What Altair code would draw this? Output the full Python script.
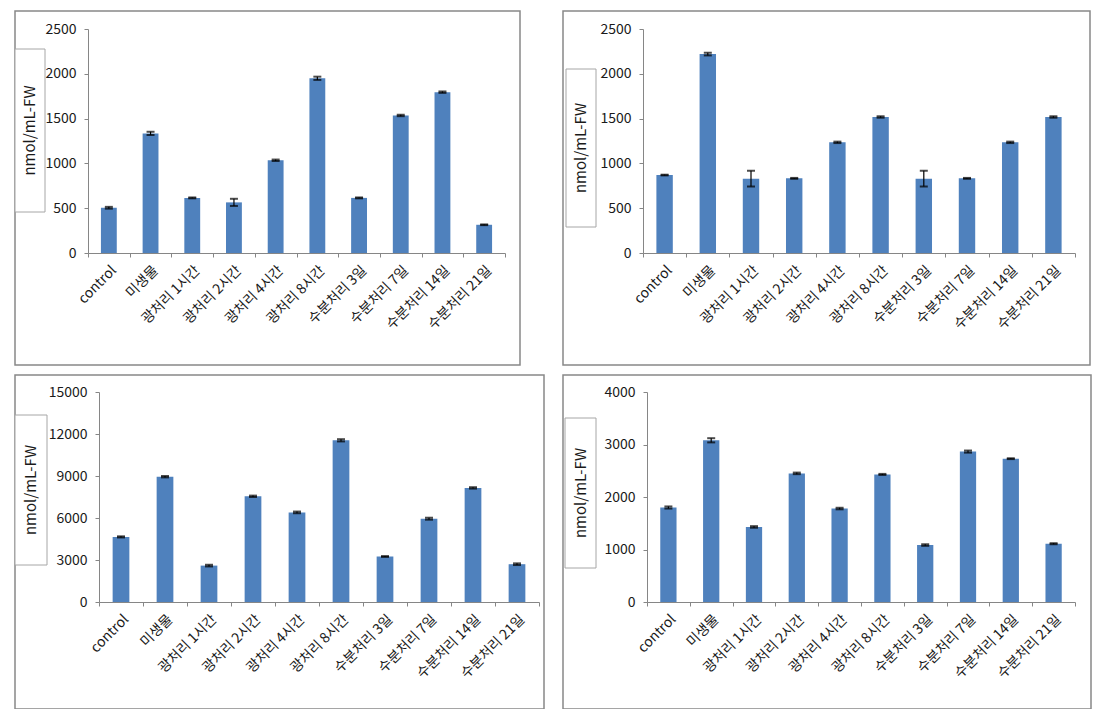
import altair as alt
import pandas as pd

categories = ["control", "미생물", "광처리 1시간", "광처리 2시간", "광처리 4시간",
              "광처리 8시간", "수분처리 3일", "수분처리 7일", "수분처리 14일", "수분처리 21일"]

vals1 = [505, 1335, 615, 565, 1035, 1950, 615, 1535, 1795, 315]
errs1 = [10, 18, 5, 40, 8, 18, 5, 8, 8, 4]

vals2 = [870, 2220, 830, 833, 1235, 1518, 830, 833, 1235, 1518]
errs2 = [4, 15, 88, 5, 8, 8, 88, 5, 8, 8]

vals3 = [4650, 8950, 2600, 7550, 6400, 11550, 3250, 5950, 8150, 2700]
errs3 = [40, 50, 60, 50, 60, 80, 30, 70, 50, 60]

vals4 = [1800, 3080, 1430, 2450, 1780, 2430, 1085, 2865, 2730, 1110]
errs4 = [20, 40, 15, 15, 15, 10, 15, 20, 8, 10]

y_title = "nmol/mL-FW"

BLUE = "#4F81BD"
AXIS_GRAY = "#868686"
FONT = "Noto Sans CJK KR"


def panel(vals, errs, ymax, ystep, w, h, x0, x1, ytop, yzero, box):
    df = pd.DataFrame({"cat": categories, "val": vals, "err": errs})
    xscale = alt.Scale(domain=categories, range=[x0, x1], paddingInner=0, paddingOuter=0)
    xaxis = alt.Axis(title=None, labelAngle=-45, labelFont=FONT, labelFontSize=14,
                     labelColor="#1a1a1a", domainColor=AXIS_GRAY, tickColor=AXIS_GRAY,
                     tickSize=4, tickBand="extent", labelPadding=6, offset=yzero - h,
                     labelAlign="right", labelBaseline="top", labelLimit=0)
    x = alt.X("cat:N", sort=categories, scale=xscale, axis=xaxis)
    yscale = alt.Scale(domain=[0, ymax], range=[yzero, ytop], nice=False)
    yaxis = alt.Axis(title=None, values=list(range(0, ymax + 1, ystep)), format="d",
                     offset=-x0, grid=False, labelFont=FONT, labelFontSize=14,
                     labelColor="#1a1a1a", domainColor=AXIS_GRAY, tickColor=AXIS_GRAY,
                     tickSize=4, labelPadding=8)

    bars = alt.Chart(df).mark_bar(color=BLUE, width=alt.RelativeBandSize(0.38)).encode(
        x=x, y=alt.Y("val:Q", scale=yscale, axis=yaxis))
    base = alt.Chart(df).transform_calculate(lo="datum.val - datum.err",
                                             hi="datum.val + datum.err")
    rule = base.mark_rule(color="black", strokeWidth=1.2).encode(
        x=x, y=alt.Y("lo:Q", scale=yscale, axis=yaxis), y2="hi:Q")
    cap_hi = base.mark_tick(color="black", thickness=2, size=8).encode(
        x=x, y=alt.Y("hi:Q", scale=yscale, axis=yaxis))
    cap_lo = base.mark_tick(color="black", thickness=2, size=8).encode(
        x=x, y=alt.Y("lo:Q", scale=yscale, axis=yaxis))

    bx0, bx1, by0, by1 = box
    tdf = pd.DataFrame({"t": [y_title]})
    rect = alt.Chart(tdf).mark_rect(fill="white", stroke="#a6a6a6", strokeWidth=1).encode(
        x=alt.value(bx0), x2=alt.value(bx1), y=alt.value(by0), y2=alt.value(by1))
    txt = alt.Chart(tdf).mark_text(angle=270, font=FONT, fontSize=15, color="#1a1a1a",
                                   align="center", baseline="middle").encode(
        x=alt.value((bx0 + bx1) / 2), y=alt.value((by0 + by1) / 2), text="t:N")

    return alt.layer(bars, rule, cap_hi, cap_lo, rect, txt).properties(width=w, height=h)


p1 = panel(vals1, errs1, 2500, 500, 505, 354, 73, 490, 18, 242, (0, 30, 38, 201))
p2 = panel(vals2, errs2, 2500, 500, 527, 354, 80, 512, 18, 242, (3, 33, 58, 216))
p3 = panel(vals3, errs3, 15000, 3000, 529, 334, 84, 524, 17, 227, (0, 32, 40, 190))
p4 = panel(vals4, errs4, 4000, 1000, 528, 334, 84, 512, 17, 227, (2, 33, 43, 193))

top = alt.hconcat(p1, p2, spacing=41)
bottom = alt.hconcat(p3, p4, spacing=17)

chart = alt.vconcat(top, bottom, spacing=8).properties(
    padding={"left": 13, "top": 10, "right": 0, "bottom": 0},
    background="white",
).configure_view(stroke="#888888", strokeWidth=1.5)

chart.save("out.html", embed_options={"renderer": "svg", "actions": False})
